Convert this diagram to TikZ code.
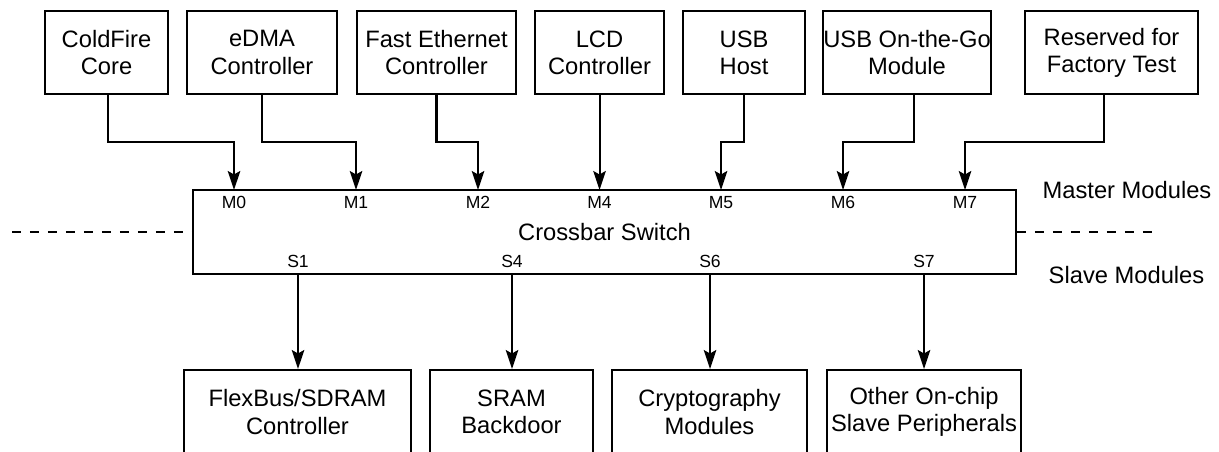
\documentclass[tikz,border=0pt]{standalone}
\usepackage{fontspec}
\setmainfont{Liberation Sans}
\usetikzlibrary{arrows.meta}

\begin{document}
\begin{tikzpicture}[x=0.02cm,y=-0.02cm,line width=1.15pt,
  every node/.style={font=\fontsize{13.5}{15.5}\selectfont},
  blk/.style={draw,align=center,inner sep=0pt,minimum height=1.66cm},
  port/.style={inner sep=0pt,font=\fontsize{10}{12}\selectfont},
  arr/.style={-{Stealth[length=0.38cm,width=0.25cm,inset=0.07cm]}}]
\useasboundingbox (0,0) rectangle (1219,451);
\clip (0,0) rectangle (1219,451);
\node[blk,minimum width=2.46cm] (cf) at (106.5,52.5) {ColdFire\\Core};
\node[blk,minimum width=3.00cm] (edma) at (262,52.5) {eDMA\\Controller};
\node[blk,minimum width=3.18cm] (fec) at (436.5,52.5) {Fast Ethernet\\Controller};
\node[blk,minimum width=2.58cm] (lcd) at (599.5,52.5) {LCD\\Controller};
\node[blk,minimum width=2.44cm] (usbh) at (744,52.5) {USB\\Host};
\node[blk,minimum width=3.32cm] (otg) at (907,52.5) {USB On-the-Go\\Module};
\node[blk,minimum width=3.46cm] (rsv) at (1111.5,52.5) {Reserved for\\Factory Test};
\node[blk,minimum width=16.46cm,minimum height=1.68cm] (xb) at (604.5,232) {Crossbar Switch};
\coordinate (m0) at (234,190);
\coordinate (m1) at (356,190);
\coordinate (m2) at (478,190);
\coordinate (m4) at (599.5,190);
\coordinate (m5) at (721,190);
\coordinate (m6) at (843,190);
\coordinate (m7) at (965,190);
\node[port] (lm0) at (234,202.5) {M0};
\node[port] (lm1) at (356,202.5) {M1};
\node[port] (lm2) at (478,202.5) {M2};
\node[port] (lm4) at (599.5,202.5) {M4};
\node[port] (lm5) at (721,202.5) {M5};
\node[port] (lm6) at (843,202.5) {M6};
\node[port] (lm7) at (965,202.5) {M7};
\coordinate (s1) at (298,274);
\coordinate (s4) at (512,274);
\coordinate (s6) at (710,274);
\coordinate (s7) at (924,274);
\node[port] (ls1) at (298,261) {S1};
\node[port] (ls4) at (512,261) {S4};
\node[port] (ls6) at (710,261) {S6};
\node[port] (ls7) at (924,261) {S7};
\node[blk,minimum width=4.54cm,minimum height=1.68cm] (fb) at (297.5,412) {FlexBus/SDRAM\\Controller};
\node[blk,minimum width=3.26cm,minimum height=1.68cm] (sram) at (511.5,412) {SRAM\\Backdoor};
\node[blk,minimum width=3.90cm,minimum height=1.68cm] (cry) at (709.5,412) {Cryptography\\Modules};
\node[blk,minimum width=3.88cm,minimum height=1.68cm] (oth) at (924,412) {Other On-chip\\Slave Peripherals};
\node (mst) at (1127,190) {Master Modules};
\node (slv) at (1126.5,275.5) {Slave Modules};
\coordinate (dl) at (12,232);
\coordinate (dr) at (1152,232);
\draw[arr] ([xshift=0.03cm]cf.south) -- ([xshift=0.03cm]cf.south |- 0,142) -| (m0);
\draw[arr] (edma.south) -- (edma.south |- 0,142) -| (m1);
\draw[arr] (fec.south) -- (fec.south |- 0,142) -| (m2);
\draw[arr] (lcd.south) -- (m4);
\draw[arr] (usbh.south) -- (usbh.south |- 0,142) -| (m5);
\draw[arr] ([xshift=0.14cm]otg.south) -- ([xshift=0.14cm]otg.south |- 0,142) -| (m6);
\draw[arr] ([xshift=-0.15cm]rsv.south) -- ([xshift=-0.15cm]rsv.south |- 0,142) -| (m7);
\draw[arr] (s1) -- (s1 |- fb.north);
\draw[arr] (s4) -- (s4 |- sram.north);
\draw[arr] (s6) -- (s6 |- cry.north);
\draw[arr] (s7) -- (s7 |- oth.north);
\draw[dash pattern=on 0.18cm off 0.18cm] (dl) -- (xb.west);
\draw[dash pattern=on 0.18cm off 0.18cm] (xb.east) -- (dr);
\end{tikzpicture}
\end{document}
